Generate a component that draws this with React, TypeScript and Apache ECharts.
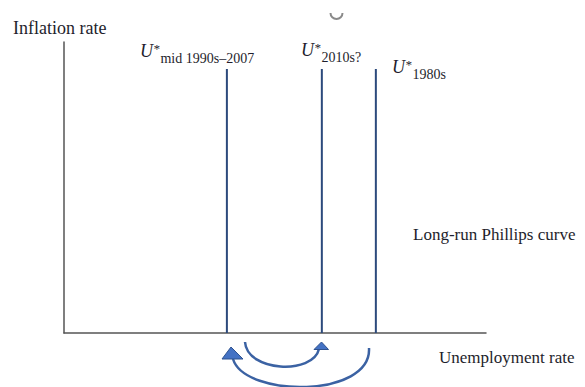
import React, { useEffect, useRef } from "react";
import * as echarts from "echarts";

// Long-run Phillips curve positions (unemployment-rate axis, 0–100 scale)
const lrpcNames = ["mid 1990s–2007", "2010s?", "1980s"];
const lrpcPositions = [38.6, 61.1, 73.9];
const lrpcTop = 90.7;
const xRange = [0, 100];
const yRange = [0, 100];

const SERIF = "'Liberation Serif', 'DejaVu Serif', serif";
const TXT = "#1e1e2c";
const LINE = "#2c4a7c";

const uStarLabel = (x: number, y: number, sub: string) => ({
  type: "text",
  x,
  y,
  style: {
    text: `{u|U}{s|*}{b|${sub}}`,
    verticalAlign: "top",
    align: "left",
    rich: {
      u: {
        fontFamily: SERIF,
        fontStyle: "italic",
        fontSize: 18,
        lineHeight: 18,
        height: 18,
        verticalAlign: "top",
        fill: TXT,
        color: TXT,
      },
      s: {
        fontFamily: SERIF,
        fontStyle: "italic",
        fontSize: 13,
        lineHeight: 13,
        height: 13,
        verticalAlign: "top",
        fill: TXT,
        color: TXT,
        padding: [0, 1, 0, 0],
      },
      b: {
        fontFamily: SERIF,
        fontSize: 14,
        lineHeight: 23,
        height: 14,
        verticalAlign: "bottom",
        fill: TXT,
        color: TXT,
      },
    },
  },
});

export default function App() {
  const ref = useRef<HTMLDivElement>(null);
  useEffect(() => {
    if (!ref.current) return;
    const chart = echarts.init(ref.current, null, { renderer: "svg" });

    const series = lrpcPositions.map((x, i) => ({
      type: "line",
      name: lrpcNames[i],
      data: [
        [x, 0],
        [x, lrpcTop],
      ],
      symbol: "none",
      lineStyle: { color: LINE, width: 2 },
      silent: true,
    }));

    chart.setOption({
      animation: false,
      grid: { left: 64, right: 99, top: 42, bottom: 54 },
      xAxis: {
        type: "value",
        min: xRange[0],
        max: xRange[1],
        axisLine: { show: true, lineStyle: { color: "#555", width: 1.5 } },
        axisTick: { show: false },
        axisLabel: { show: false },
        splitLine: { show: false },
      },
      yAxis: {
        type: "value",
        min: yRange[0],
        max: yRange[1],
        axisLine: { show: true, lineStyle: { color: "#555", width: 1.5 } },
        axisTick: { show: false },
        axisLabel: { show: false },
        splitLine: { show: false },
      },
      series,
      graphic: [
        {
          type: "text",
          x: 13,
          y: 28,
          style: {
            text: "Inflation rate",
            font: `18px ${SERIF}`,
            fill: TXT,
            verticalAlign: "middle",
          },
        },
        {
          type: "text",
          x: 413,
          y: 234,
          style: {
            text: "Long-run Phillips curve",
            font: `17px ${SERIF}`,
            fill: TXT,
            verticalAlign: "middle",
          },
        },
        {
          type: "text",
          x: 439,
          y: 357,
          style: {
            text: "Unemployment rate",
            font: `17px ${SERIF}`,
            fill: TXT,
            verticalAlign: "middle",
          },
        },
        uStarLabel(140, 42, lrpcNames[0]),
        uStarLabel(301, 41, lrpcNames[1]),
        uStarLabel(392, 58, lrpcNames[2]),
        {
          type: "arc",
          shape: { cx: 336.5, cy: 13, r: 6, startAngle: 0, endAngle: Math.PI },
          style: { stroke: "#8a8a8a", lineWidth: 2, fill: "none" },
        },
        {
          type: "bezierCurve",
          shape: {
            x1: 245,
            y1: 342,
            cpx1: 247,
            cpy1: 372,
            cpx2: 313,
            cpy2: 375,
            x2: 319,
            y2: 349,
          },
          style: { stroke: "#3b62a3", lineWidth: 2.5, fill: "none" },
        },
        {
          type: "bezierCurve",
          shape: {
            x1: 369,
            y1: 348,
            cpx1: 372,
            cpy1: 398,
            cpx2: 245,
            cpy2: 398,
            x2: 233,
            y2: 359,
          },
          style: { stroke: "#3b62a3", lineWidth: 2.5, fill: "none" },
        },
        {
          type: "polygon",
          shape: {
            points: [
              [222, 359],
              [243, 359],
              [231, 347],
            ],
          },
          style: { fill: "#4472c4", stroke: "#2f528f", lineWidth: 1 },
        },
        {
          type: "polygon",
          shape: {
            points: [
              [314, 349.5],
              [328.5, 349.5],
              [321.5, 342],
            ],
          },
          style: { fill: "#4472c4", stroke: "#2f528f", lineWidth: 1 },
        },
      ],
    });
    return () => chart.dispose();
  }, []);
  return (
    <div
      ref={ref}
      style={{ position: "absolute", left: 0, top: 0, width: 585, height: 387 }}
    />
  );
}
